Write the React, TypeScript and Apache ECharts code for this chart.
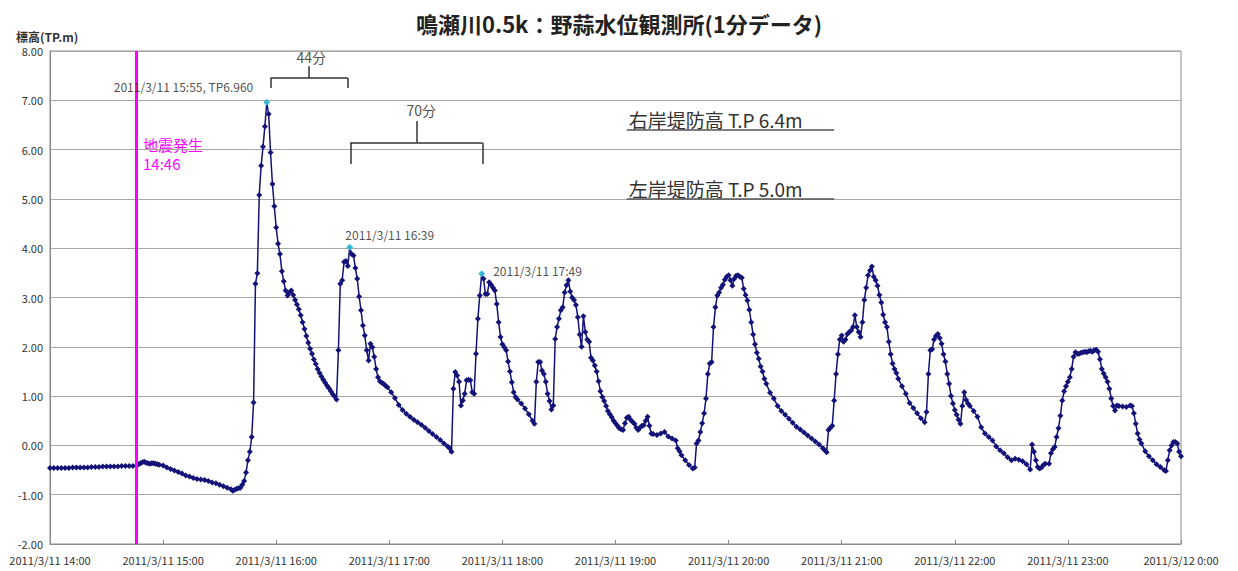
import React, { useEffect, useRef } from "react";
import * as echarts from "echarts";

const TITLE = "鳴瀬川0.5k：野蒜水位観測所(1分データ)";
const Y_NAME = "標高(TP.m)";
const QUAKE_TIME = "14:46";
const QUAKE_LINES = ["地震発生", "14:46"];

// observed water level readings (time, T.P. m)
const readings: [string, number][] = [
  ["14:00",-0.46],["14:02",-0.46],["14:04",-0.46],["14:06",-0.46],["14:08",-0.46],["14:10",-0.46],["14:12",-0.45],["14:14",-0.45],["14:16",-0.45],["14:18",-0.45],["14:20",-0.45],["14:22",-0.44],["14:24",-0.44],["14:26",-0.44],["14:28",-0.43],["14:30",-0.43],["14:32",-0.43],["14:34",-0.43],["14:36",-0.43],["14:38",-0.42],["14:40",-0.42],["14:42",-0.42],["14:44",-0.42],["14:46",-0.41],
  ["14:47",-0.38],["14:48",-0.36],["14:49",-0.34],["14:50",-0.33],["14:51",-0.35],["14:52",-0.36],["14:53",-0.37],["14:54",-0.36],["14:55",-0.36],["14:56",-0.37],["14:57",-0.38],["14:58",-0.39],
  ["15:00",-0.41],["15:02",-0.45],["15:04",-0.48],["15:06",-0.51],["15:08",-0.54],["15:10",-0.57],["15:12",-0.61],["15:14",-0.63],["15:16",-0.66],["15:18",-0.68],["15:20",-0.69],["15:22",-0.70],["15:24",-0.72],["15:26",-0.75],["15:28",-0.77],["15:30",-0.80],["15:32",-0.83],["15:34",-0.86],["15:36",-0.89],["15:37",-0.92],["15:38",-0.90],["15:39",-0.88],["15:40",-0.87],["15:41",-0.86],["15:42",-0.80],["15:43",-0.72],["15:44",-0.55],["15:45",-0.30],["15:46",-0.13],["15:47",0.17],["15:48",0.87],["15:49",3.28],["15:50",3.49],["15:51",5.08],["15:52",5.67],["15:53",6.06],["15:54",6.47],["15:55",6.96],["15:56",6.72],["15:57",5.94],["15:58",5.30],["15:59",4.85],
  ["16:00",4.42],["16:01",4.09],["16:02",3.88],["16:03",3.53],["16:04",3.33],["16:05",3.14],["16:06",3.04],["16:07",3.10],["16:08",3.14],["16:09",3.05],["16:10",2.95],["16:11",2.86],["16:12",2.76],["16:13",2.64],["16:14",2.50],["16:15",2.36],["16:16",2.22],["16:17",2.08],["16:18",1.96],["16:19",1.86],["16:20",1.74],["16:21",1.65],["16:22",1.55],["16:23",1.47],["16:24",1.40],["16:25",1.33],["16:26",1.27],["16:27",1.21],["16:28",1.16],["16:29",1.10],["16:30",1.04],["16:31",0.99],["16:32",0.93],["16:33",1.93],["16:34",3.28],["16:35",3.35],["16:36",3.72],["16:37",3.74],["16:38",3.64],["16:39",4.02],["16:40",3.88],["16:41",3.85],["16:42",3.60],["16:43",3.38],["16:44",3.02],["16:45",2.74],["16:46",2.43],["16:47",2.23],["16:48",1.93],["16:49",1.72],["16:50",2.06],["16:51",1.99],["16:52",1.80],["16:53",1.55],["16:54",1.38],["16:55",1.30],["16:56",1.27],["16:57",1.25],["16:58",1.21],["16:59",1.18],
  ["17:01",1.08],["17:03",0.96],["17:05",0.82],["17:07",0.72],["17:09",0.64],["17:11",0.58],["17:13",0.52],["17:15",0.47],["17:17",0.42],["17:19",0.36],["17:21",0.29],["17:23",0.23],["17:25",0.17],["17:27",0.11],["17:29",0.04],["17:31",-0.02],["17:32",-0.06],["17:33",-0.13],["17:34",1.15],["17:35",1.49],["17:36",1.42],["17:37",1.29],["17:38",0.81],["17:39",0.91],["17:40",1.05],["17:41",1.32],["17:42",1.33],["17:43",1.32],["17:44",1.08],["17:45",1.05],["17:46",1.86],["17:47",2.57],["17:48",3.04],["17:49",3.48],["17:50",3.38],["17:51",3.07],["17:52",3.07],["17:53",3.31],["17:54",3.26],["17:55",3.20],["17:56",3.14],["17:57",2.87],["17:58",2.50],["17:59",2.20],
  ["18:00",2.05],["18:01",1.99],["18:02",1.93],["18:03",1.70],["18:04",1.50],["18:05",1.28],["18:06",1.08],["18:07",0.98],["18:08",0.93],["18:10",0.85],["18:12",0.75],["18:14",0.63],["18:16",0.50],["18:17",0.44],["18:18",1.29],["18:19",1.69],["18:20",1.69],["18:21",1.52],["18:22",1.45],["18:23",1.29],["18:24",1.05],["18:25",0.90],["18:26",0.73],["18:27",0.81],["18:28",2.16],["18:29",2.40],["18:30",2.57],["18:31",2.74],["18:32",2.80],["18:33",3.10],["18:34",3.25],["18:35",3.35],["18:36",3.12],["18:37",3.00],["18:38",2.95],["18:39",2.85],["18:40",2.60],["18:41",2.25],["18:42",2.00],["18:43",2.62],["18:44",2.30],["18:45",2.15],["18:46",2.10],["18:47",1.78],["18:48",1.72],["18:49",1.62],["18:50",1.50],["18:51",1.30],["18:52",1.10],["18:53",0.98],["18:54",0.90],["18:55",0.80],["18:56",0.70],["18:57",0.63],["18:58",0.57],["18:59",0.50],
  ["19:00",0.45],["19:01",0.40],["19:02",0.35],["19:03",0.33],["19:04",0.31],["19:05",0.45],["19:06",0.56],["19:07",0.58],["19:08",0.52],["19:09",0.48],["19:10",0.44],["19:11",0.36],["19:12",0.31],["19:13",0.36],["19:14",0.40],["19:15",0.41],["19:16",0.50],["19:17",0.58],["19:18",0.40],["19:19",0.24],["19:20",0.23],["19:22",0.21],["19:24",0.24],["19:26",0.27],["19:28",0.18],["19:30",0.14],["19:32",0.10],["19:33",-0.06],["19:34",-0.12],["19:35",-0.20],["19:37",-0.30],["19:39",-0.40],["19:41",-0.47],["19:42",-0.45],["19:43",0.04],["19:44",0.10],["19:45",0.27],["19:46",0.45],["19:47",0.65],["19:48",0.95],["19:49",1.45],["19:50",1.66],["19:51",1.69],["19:52",2.40],["19:53",2.80],["19:54",3.04],["19:55",3.10],["19:56",3.20],["19:57",3.26],["19:58",3.36],["19:59",3.42],
  ["20:00",3.45],["20:01",3.35],["20:02",3.24],["20:03",3.38],["20:04",3.44],["20:05",3.45],["20:06",3.42],["20:07",3.40],["20:08",3.18],["20:09",3.05],["20:10",2.94],["20:11",2.75],["20:12",2.50],["20:13",2.25],["20:14",2.05],["20:15",1.88],["20:16",1.76],["20:17",1.60],["20:18",1.50],["20:19",1.35],["20:20",1.25],["20:22",1.07],["20:24",0.95],["20:26",0.80],["20:28",0.70],["20:30",0.62],["20:32",0.54],["20:34",0.46],["20:36",0.38],["20:38",0.32],["20:40",0.26],["20:42",0.20],["20:44",0.14],["20:46",0.08],["20:48",0.02],["20:50",-0.06],["20:51",-0.10],["20:52",-0.14],["20:53",0.31],["20:54",0.36],["20:55",0.40],["20:56",0.91],["20:57",1.45],["20:58",1.85],["20:59",2.15],
  ["21:00",2.23],["21:01",2.10],["21:02",2.15],["21:03",2.26],["21:04",2.30],["21:05",2.33],["21:06",2.40],["21:07",2.64],["21:08",2.40],["21:09",2.30],["21:10",2.20],["21:11",2.50],["21:12",2.95],["21:13",3.20],["21:14",3.45],["21:15",3.55],["21:16",3.63],["21:17",3.42],["21:18",3.35],["21:19",3.24],["21:20",3.05],["21:21",2.90],["21:22",2.65],["21:23",2.50],["21:24",2.40],["21:25",2.10],["21:26",1.85],["21:27",1.66],["21:28",1.55],["21:29",1.47],["21:30",1.35],["21:32",1.20],["21:34",1.05],["21:36",0.86],["21:38",0.76],["21:40",0.65],["21:42",0.55],["21:44",0.47],["21:45",0.68],["21:46",1.45],["21:47",1.93],["21:48",1.95],["21:49",2.15],["21:50",2.22],["21:51",2.26],["21:52",2.18],["21:53",2.06],["21:54",1.85],["21:55",1.70],["21:56",1.45],["21:57",1.25],["21:58",1.00],["21:59",0.85],
  ["22:00",0.72],["22:01",0.62],["22:02",0.52],["22:03",0.44],["22:04",0.80],["22:05",1.08],["22:06",0.92],["22:07",0.85],["22:08",0.80],["22:10",0.70],["22:12",0.58],["22:14",0.37],["22:16",0.24],["22:18",0.17],["22:20",0.10],["22:22",-0.02],["22:24",-0.10],["22:26",-0.16],["22:28",-0.24],["22:30",-0.30],["22:32",-0.27],["22:34",-0.29],["22:36",-0.32],["22:38",-0.38],["22:40",-0.49],["22:41",0.02],["22:42",-0.13],["22:43",-0.30],["22:44",-0.44],["22:45",-0.47],["22:46",-0.45],["22:47",-0.40],["22:48",-0.37],["22:50",-0.37],["22:51",-0.16],["22:52",-0.08],["22:53",-0.03],["22:54",0.17],["22:55",0.35],["22:56",0.60],["22:57",0.91],["22:58",1.10],["22:59",1.20],
  ["23:00",1.29],["23:01",1.38],["23:02",1.55],["23:03",1.80],["23:04",1.89],["23:05",1.86],["23:06",1.86],["23:07",1.88],["23:08",1.89],["23:09",1.90],["23:10",1.89],["23:11",1.91],["23:12",1.92],["23:13",1.90],["23:14",1.93],["23:15",1.94],["23:16",1.90],["23:17",1.75],["23:18",1.55],["23:19",1.46],["23:20",1.38],["23:21",1.29],["23:22",1.15],["23:23",0.95],["23:24",0.80],["23:25",0.71],["23:26",0.81],["23:27",0.80],["23:29",0.79],["23:31",0.78],["23:33",0.81],["23:34",0.80],["23:35",0.65],["23:36",0.44],["23:37",0.24],["23:38",0.12],["23:39",0.04],["23:41",-0.12],["23:43",-0.22],["23:45",-0.30],["23:47",-0.38],["23:49",-0.44],["23:51",-0.50],["23:52",-0.52],["23:53",-0.30],["23:54",-0.10],["23:55",0.00],["23:56",0.07],["23:57",0.07],["23:58",0.04],["23:59",-0.13],["24:00",-0.22],
];

// highlighted peaks: time, level, label
const peakTimes = ["15:55", "16:39", "17:49"];
const peakLevels = [6.96, 4.02, 3.48];
const peakLabels = ["2011/3/11 15:55, TP6.960", "2011/3/11 16:39", "2011/3/11 17:49"];

// dike crown heights
const dikeNames = ["右岸堤防高 T.P 6.4m", "左岸堤防高 T.P 5.0m"];
const dikeLevels = [6.4, 5.0];

// interval brackets
const bracketTexts = ["44分", "70分"];

const toMin = (t: string) => {
  const [h, m] = t.split(":").map(Number);
  return (h - 14) * 60 + m;
};

const FONT = "'Noto Sans CJK JP', 'Noto Sans', sans-serif";
const NAVY = "#121278";

export default function App() {
  const ref = useRef<HTMLDivElement>(null);

  useEffect(() => {
    if (!ref.current) return;
    const chart = echarts.init(ref.current, undefined, { renderer: "svg" });

    const lineData = readings.map(([t, v]) => [toMin(t), v]);
    const labelPos: any[] = [
      { position: "left", distance: 10, offset: [0, -16] },
      { position: "top", distance: 3, offset: [40, 0] },
      { position: "right", distance: 8, offset: [0, -3] },
    ];
    const peakData = peakTimes.map((t, i) => ({
      value: [toMin(t), peakLevels[i]],
      label: { show: true, formatter: peakLabels[i], ...labelPos[i] },
    }));

    const seg = (x1: number, y1: number, x2: number, y2: number) => [
      { coord: [x1, y1] },
      { coord: [x2, y2] },
    ];
    const bracket = (a: number, b: number, top: number, foot: number, tip: number) => [
      seg(a, foot, a, top),
      seg(a, top, b, top),
      seg(b, top, b, foot),
      seg((a + b) / 2, top, (a + b) / 2, tip),
    ];

    const option: any = {
      animation: false,
      textStyle: { fontFamily: FONT },
      title: {
        text: TITLE,
        left: "center",
        top: 7,
        textStyle: { fontSize: 22, fontWeight: "bold", color: "#222", fontFamily: FONT },
      },
      grid: {
        left: 50,
        right: 57,
        top: 51,
        bottom: 27,
        show: true,
        borderColor: "#8a8a8a",
        borderWidth: 1,
        backgroundColor: "#fff",
      },
      xAxis: {
        type: "value",
        min: 0,
        max: 600,
        interval: 60,
        axisLine: { show: true, onZero: false, lineStyle: { color: "#8a8a8a" } },
        axisTick: { show: true, inside: true, length: 4, lineStyle: { color: "#8a8a8a" } },
        splitLine: { show: false },
        axisLabel: {
          fontSize: 11,
          color: "#333",
          margin: 10,
          fontFamily: FONT,
          formatter: (v: number) => {
            const h = 14 + Math.round(v / 60);
            return h === 24 ? "2011/3/12 0:00" : `2011/3/11 ${h}:00`;
          },
        },
      },
      yAxis: {
        type: "value",
        min: -2,
        max: 8,
        interval: 1,
        axisLine: { show: true, lineStyle: { color: "#8a8a8a" } },
        axisTick: { show: false },
        splitLine: { show: true, lineStyle: { color: "#a8a8a8", width: 1 } },
        axisLabel: {
          fontSize: 11,
          color: "#333",
          margin: 7,
          fontFamily: FONT,
          formatter: (v: number) => v.toFixed(2),
        },
      },
      graphic: [
        {
          type: "text",
          left: 16,
          top: 30,
          style: { text: Y_NAME, fontSize: 12, fontWeight: "bold", fill: "#333", fontFamily: FONT },
        },
        {
          type: "text",
          left: 143,
          top: 137,
          style: { text: QUAKE_LINES[0], fontSize: 15, fill: "#ff00ff", fontFamily: FONT },
        },
        {
          type: "text",
          left: 143,
          top: 156,
          style: { text: QUAKE_LINES[1], fontSize: 15, fill: "#ff00ff", fontFamily: FONT },
        },
      ],
      series: [
        {
          type: "line",
          data: lineData,
          symbol: "diamond",
          symbolSize: 6,
          lineStyle: { color: NAVY, width: 1.5 },
          itemStyle: { color: NAVY },
          z: 3,
          markLine: {
            silent: true,
            symbol: ["none", "none"],
            label: { show: false },
            lineStyle: { color: "#ff00ff", width: 3, type: "solid" },
            data: [{ xAxis: toMin(QUAKE_TIME) }],
          },
        },
        {
          type: "line",
          data: [],
          markLine: {
            silent: true,
            symbol: ["none", "none"],
            lineStyle: { color: "#555", width: 1.6, type: "solid" },
            label: {
              show: true,
              position: "insideStartTop",
              distance: [2, 1],
              fontSize: 19,
              color: "#333",
              fontFamily: FONT,
            },
            data: dikeLevels.map((lv, i) => [
              { coord: [toMin("19:06"), lv], label: { formatter: dikeNames[i] } },
              { coord: [toMin("20:56"), lv] },
            ]),
          },
        },
        {
          type: "line",
          data: [],
          markLine: {
            silent: true,
            symbol: ["none", "none"],
            label: { show: false },
            lineStyle: { color: "#333", width: 1.5, type: "solid" },
            data: [
              ...bracket(117, 158, 7.45, 7.25, 7.69),
              ...bracket(159.3, 229.4, 6.14, 5.71, 6.58),
            ],
          },
        },
        {
          type: "scatter",
          symbolSize: 1,
          itemStyle: { color: "transparent" },
          silent: true,
          label: {
            show: true,
            position: "inside",
            fontSize: 14,
            color: "#222",
            fontFamily: FONT,
            formatter: (p: any) => bracketTexts[p.dataIndex],
          },
          data: [
            [138.6, 7.88],
            [197, 6.8],
          ],
        },
        {
          type: "scatter",
          symbol: "diamond",
          symbolSize: 7,
          itemStyle: { color: "#3fe0f0" },
          z: 5,
          label: { fontSize: 12, color: "#222", fontFamily: FONT },
          data: peakData,
        },
      ],
    };

    chart.setOption(option);
    return () => chart.dispose();
  }, []);

  return (
    <div
      ref={ref}
      style={{ position: "fixed", left: 0, top: 0, width: 1238, height: 571, background: "#fff" }}
    />
  );
}
